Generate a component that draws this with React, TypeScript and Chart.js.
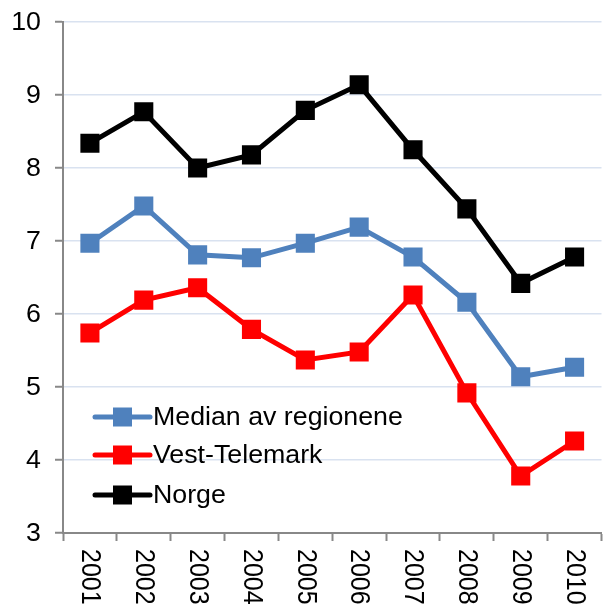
import React, { useEffect, useRef } from "react";
import { Chart, registerables } from "chart.js";

Chart.register(...registerables);

const years = ["2001", "2002", "2003", "2004", "2005", "2006", "2007", "2008", "2009", "2010"];
const yTicks = [3, 4, 5, 6, 7, 8, 9, 10];
const median = [6.97, 7.48, 6.81, 6.77, 6.97, 7.19, 6.78, 6.16, 5.14, 5.27];
const vestTelemark = [5.74, 6.19, 6.36, 5.79, 5.37, 5.48, 6.26, 4.92, 3.78, 4.26];
const norge = [8.34, 8.77, 8.0, 8.18, 8.79, 9.14, 8.25, 7.44, 6.42, 6.78];
const seriesNames = ["Median av regionene", "Vest-Telemark", "Norge"];
const seriesColors = ["#4F81BD", "#FF0000", "#000000"];

const FONT = "Liberation Sans, Arial, sans-serif";
const FS = 25;
const STRETCH = 1.07;

const textPlugin = {
  id: "customText",
  afterDraw(chart: any) {
    const ctx = chart.ctx;
    const xs = chart.scales.x;
    const ys = chart.scales.y;
    const area = chart.chartArea;
    ctx.save();
    ctx.font = `${FS}px ${FONT}`;
    ctx.fillStyle = "#000";
    // x labels, rotated clockwise
    ctx.textAlign = "left";
    ctx.textBaseline = "middle";
    years.forEach((y, i) => {
      const px = xs.getPixelForValue(i);
      ctx.save();
      ctx.translate(px, area.bottom + 16);
      ctx.rotate(Math.PI / 2);
      ctx.scale(1, 1.12);
      ctx.fillText(y, 0, 0);
      ctx.restore();
    });
    // y labels
    ctx.textAlign = "right";
    ctx.textBaseline = "middle";
    yTicks.forEach((v) => {
      const py = ys.getPixelForValue(v);
      ctx.save();
      ctx.translate(area.left - 22, py + 1);
      ctx.scale(STRETCH, 1);
      ctx.fillText(String(v), 0, 0);
      ctx.restore();
    });
    // legend inside plot
    const x0 = area.left + 32;
    const rows = [area.bottom - 116, area.bottom - 78, area.bottom - 38];
    chart.data.datasets.forEach((ds: any, i: number) => {
      const y = rows[i];
      ctx.strokeStyle = ds.borderColor;
      ctx.lineWidth = 5;
      ctx.lineCap = "round";
      ctx.beginPath();
      ctx.moveTo(x0, y);
      ctx.lineTo(x0 + 55, y);
      ctx.stroke();
      ctx.fillStyle = ds.backgroundColor;
      ctx.fillRect(x0 + 18, y - 9.5, 19, 19);
      ctx.fillStyle = "#000";
      ctx.textAlign = "left";
      ctx.textBaseline = "middle";
      ctx.save();
      ctx.translate(x0 + 58, y + 1);
      ctx.scale(STRETCH, 1);
      ctx.fillText(ds.label, 0, 0);
      ctx.restore();
    });
    ctx.restore();
  },
};

export default function App() {
  const ref = useRef<HTMLCanvasElement>(null);
  useEffect(() => {
    if (!ref.current) return;
    const mk = (label: string, data: number[], color: string) => ({
      label,
      data,
      borderColor: color,
      backgroundColor: color,
      borderWidth: 5,
      pointStyle: "rect",
      pointRadius: 13.5,
      pointBorderWidth: 0,
      pointBackgroundColor: color,
      tension: 0,
    });
    const chart = new Chart(ref.current, {
      type: "line",
      data: {
        labels: years,
        datasets: [
          mk(seriesNames[0], median, seriesColors[0]),
          mk(seriesNames[1], vestTelemark, seriesColors[1]),
          mk(seriesNames[2], norge, seriesColors[2]),
        ],
      },
      options: {
        responsive: false,
        animation: false,
        layout: { padding: { top: 22, right: 8, left: 0, bottom: 0 } },
        plugins: { legend: { display: false }, tooltip: { enabled: false } },
        scales: {
          x: {
            offset: true,
            grid: {
              offset: true,
              drawOnChartArea: false,
              drawTicks: true,
              tickLength: 8,
              tickColor: "#888",
              tickWidth: 2,
            },
            border: { color: "#888", width: 2 },
            ticks: { display: false },
            afterFit: (s: any) => {
              s.height = 77;
            },
          },
          y: {
            min: 3,
            max: 10,
            ticks: { stepSize: 1, display: false },
            grid: {
              color: "#D9E2F0",
              lineWidth: 1.5,
              tickLength: 8,
              tickColor: "#888",
              tickWidth: 2,
            },
            border: { color: "#888", width: 2 },
            afterFit: (s: any) => {
              s.width = 63;
            },
          },
        },
      },
      plugins: [textPlugin],
    } as any);
    return () => chart.destroy();
  }, []);
  return (
    <div style={{ position: "absolute", left: 0, top: 0, width: 615, height: 610, background: "#fff" }}>
      <canvas ref={ref} width={615} height={610} style={{ display: "block" }} />
    </div>
  );
}
